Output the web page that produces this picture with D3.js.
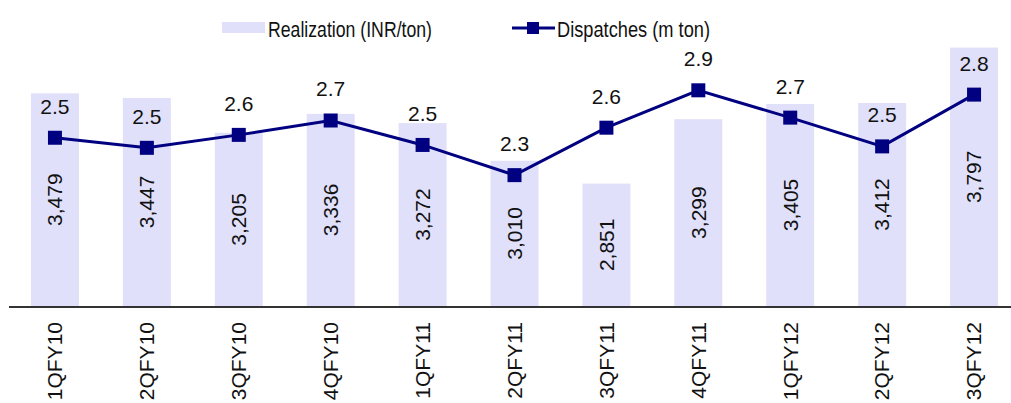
<!DOCTYPE html>
<html>
<head>
<meta charset="utf-8">
<script src="https://cdn.jsdelivr.net/npm/d3@7"></script>
<style>
  body { margin: 0; background: #fff; }
  text { font-family: "Liberation Sans", Arial, sans-serif; fill: #111; }
</style>
</head>
<body>
<script>
var quarters = ["1QFY10", "2QFY10", "3QFY10", "4QFY10", "1QFY11", "2QFY11",
                "3QFY11", "4QFY11", "1QFY12", "2QFY12", "3QFY12"];
var realization = [3479, 3447, 3205, 3336, 3272, 3010, 2851, 3299, 3405, 3412, 3797];
var dispatches = [2.54, 2.47, 2.56, 2.66, 2.49, 2.28, 2.61, 2.87, 2.68, 2.48, 2.84];

var width = 1011, height = 403;

var svg = d3.select("body")
    .append("svg")
    .attr("width", width)
    .attr("height", height);

var x = d3.scaleBand()
    .domain(quarters)
    .range([9, 1020])
    .paddingInner(0.478)
    .paddingOuter(0.239);

var yBar = d3.scaleLinear()
    .domain([2000, 4000])
    .range([306, 18.4]);

var yLine = d3.scaleLinear()
    .domain([1.37, 3.37])
    .range([306, 18.4]);

var bars = quarters.map(function (q, i) { return {q: q, v: realization[i]}; });
var pts = quarters.map(function (q, i) { return {q: q, v: dispatches[i]}; });

// bars
svg.append("g")
    .selectAll("rect")
    .data(bars)
    .enter()
        .append("rect")
        .attr("x", function (d) { return x(d.q); })
        .attr("y", function (d) { return yBar(d.v); })
        .attr("width", x.bandwidth())
        .attr("height", function (d) { return yBar(2000) - yBar(d.v); })
        .attr("fill", "#e0e0fa");

// bar values, rotated
svg.append("g")
    .selectAll("text")
    .data(bars)
    .enter()
        .append("text")
        .attr("transform", function (d) {
            var cx = x(d.q) + x.bandwidth() / 2;
            var cy = (yBar(d.v) + yBar(2000)) / 2;
            return "translate(" + cx + "," + cy + ") rotate(-90)";
        })
        .attr("text-anchor", "middle")
        .attr("dy", "0.35em")
        .style("font-size", "21px")
        .text(function (d) { return d3.format(",")(d.v); });

// x axis
var xAxis = d3.axisBottom(x).tickSize(0).tickPadding(0);
var gx = svg.append("g")
    .attr("transform", "translate(0,307)")
    .call(xAxis);
gx.select(".domain")
    .attr("d", "M9,0H1011")
    .attr("stroke", "#333")
    .attr("stroke-width", 2);
gx.selectAll(".tick text")
    .attr("transform", "translate(0,15) rotate(-90)")
    .attr("text-anchor", "end")
    .attr("x", 0)
    .attr("y", 0)
    .attr("dy", "0.35em")
    .style("font-size", "21px")
    .style("font-family", "'Liberation Sans', Arial, sans-serif")
    .attr("fill", "#111");

// dispatches line
var line = d3.line()
    .x(function (d) { return x(d.q) + x.bandwidth() / 2; })
    .y(function (d) { return yLine(d.v); });

svg.append("path")
    .datum(pts)
    .attr("d", line)
    .attr("fill", "none")
    .attr("stroke", "#000080")
    .attr("stroke-width", 3);

svg.append("g")
    .selectAll("rect")
    .data(pts)
    .enter()
        .append("rect")
        .attr("x", function (d) { return x(d.q) + x.bandwidth() / 2 - 7; })
        .attr("y", function (d) { return yLine(d.v) - 7; })
        .attr("width", 14)
        .attr("height", 14)
        .attr("fill", "#000080");

svg.append("g")
    .selectAll("text")
    .data(pts)
    .enter()
        .append("text")
        .attr("x", function (d) { return x(d.q) + x.bandwidth() / 2; })
        .attr("y", function (d) { return yLine(d.v) - 24; })
        .attr("text-anchor", "middle")
        .style("font-size", "21px")
        .text(function (d) { return d3.format(".1f")(d.v); });

// legend
var legend = svg.append("g");
legend.append("rect")
    .attr("x", 222).attr("y", 22)
    .attr("width", 43).attr("height", 11)
    .attr("fill", "#e0e0fa");
legend.append("text")
    .attr("x", 268).attr("y", 37)
    .attr("textLength", 164)
    .attr("lengthAdjust", "spacingAndGlyphs")
    .style("font-size", "22px")
    .text("Realization (INR/ton)");
legend.append("line")
    .attr("x1", 512).attr("x2", 555)
    .attr("y1", 28).attr("y2", 28)
    .attr("stroke", "#000080")
    .attr("stroke-width", 3);
legend.append("rect")
    .attr("x", 527).attr("y", 22)
    .attr("width", 12).attr("height", 12)
    .attr("fill", "#000080");
legend.append("text")
    .attr("x", 557).attr("y", 37)
    .attr("textLength", 153)
    .attr("lengthAdjust", "spacingAndGlyphs")
    .style("font-size", "22px")
    .text("Dispatches (m ton)");
</script>
</body>
</html>
